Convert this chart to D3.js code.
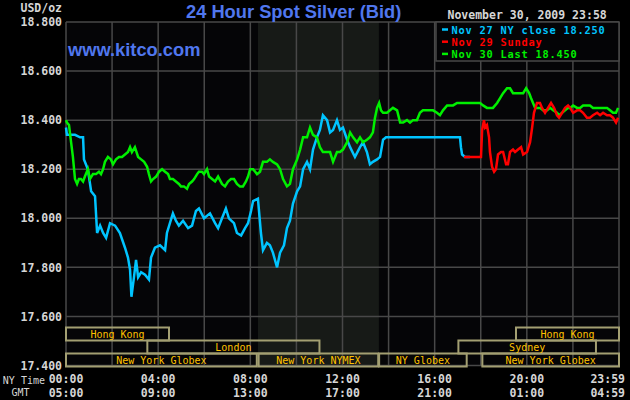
<!DOCTYPE html>
<html>
<head>
<meta charset="utf-8">
<script src="https://cdn.jsdelivr.net/npm/d3@7/dist/d3.min.js"></script>
<style>
  html, body { margin: 0; padding: 0; background: #000; }
  svg { display: block; }
</style>
</head>
<body>
<svg id="chart" width="630" height="400"></svg>
<script>
// hours after 00:00 NY time, price in USD/oz
const nov27Close = [
  [0.00, 18.37], [0.04, 18.34], [0.39, 18.34], [0.61, 18.33], [0.74, 18.33], [0.78, 18.24],
  [0.95, 18.20], [1.09, 18.11], [1.26, 18.09], [1.35, 17.94], [1.48, 17.97], [1.61, 17.94],
  [1.74, 17.92], [1.91, 17.98], [2.13, 17.97], [2.34, 17.94], [2.56, 17.88], [2.69, 17.84],
  [2.78, 17.79], [2.84, 17.68], [2.95, 17.76], [3.04, 17.83], [3.13, 17.76], [3.26, 17.78],
  [3.43, 17.77], [3.60, 17.75], [3.69, 17.84], [3.86, 17.88], [4.08, 17.89], [4.30, 17.87],
  [4.38, 17.94], [4.51, 17.98], [4.64, 18.02], [4.77, 17.99], [4.90, 17.97], [5.08, 17.99],
  [5.30, 17.96], [5.47, 17.97], [5.64, 18.03], [5.77, 18.04], [5.99, 18.00], [6.25, 18.02],
  [6.47, 17.98], [6.60, 17.96], [6.77, 18.00], [6.94, 18.04], [7.07, 18.00], [7.29, 17.98],
  [7.42, 17.94], [7.60, 17.93], [7.77, 17.96], [7.90, 17.98], [8.03, 18.03], [8.12, 18.07],
  [8.33, 18.08], [8.46, 17.94], [8.55, 17.87], [8.72, 17.90], [8.85, 17.89], [8.98, 17.86],
  [9.16, 17.80], [9.29, 17.86], [9.46, 17.89], [9.59, 17.96], [9.72, 17.99], [9.85, 18.06],
  [10.03, 18.11], [10.16, 18.13], [10.29, 18.20], [10.46, 18.23], [10.59, 18.20], [10.72, 18.28],
  [10.89, 18.33], [11.02, 18.36], [11.15, 18.42], [11.33, 18.40], [11.46, 18.35], [11.59, 18.36],
  [11.76, 18.40], [11.89, 18.36], [12.02, 18.37], [12.20, 18.32], [12.33, 18.29], [12.54, 18.25],
  [12.76, 18.29], [12.89, 18.31], [13.06, 18.27], [13.19, 18.22], [13.32, 18.23], [13.50, 18.24],
  [13.63, 18.25], [13.76, 18.32], [13.89, 18.33], [17.10, 18.33], [17.14, 18.29], [17.19, 18.26],
  [17.32, 18.25], [17.53, 18.25]
];

const nov29Sunday = [
  [17.27, 18.25], [18.01, 18.25], [18.06, 18.36], [18.14, 18.40], [18.19, 18.37], [18.27, 18.38],
  [18.36, 18.33], [18.40, 18.27], [18.49, 18.21], [18.58, 18.19], [18.66, 18.20], [18.75, 18.26],
  [18.88, 18.27], [18.97, 18.27], [19.10, 18.22], [19.18, 18.22], [19.27, 18.27], [19.40, 18.28],
  [19.49, 18.27], [19.62, 18.28], [19.75, 18.29], [19.84, 18.26], [20.01, 18.27], [20.14, 18.31],
  [20.23, 18.37], [20.31, 18.43], [20.44, 18.47], [20.57, 18.47], [20.66, 18.45], [20.79, 18.43],
  [20.92, 18.45], [21.05, 18.47], [21.18, 18.45], [21.31, 18.42], [21.40, 18.41], [21.53, 18.43],
  [21.66, 18.45], [21.79, 18.46], [21.88, 18.45], [22.01, 18.43], [22.18, 18.44], [22.31, 18.44],
  [22.44, 18.43], [22.61, 18.41], [22.74, 18.41], [22.87, 18.42], [23.05, 18.43], [23.18, 18.42],
  [23.31, 18.43], [23.48, 18.42], [23.61, 18.42], [23.74, 18.41], [23.87, 18.39], [23.96, 18.41]
];

const nov30Last = [
  [0.00, 18.40], [0.04, 18.39], [0.13, 18.38], [0.22, 18.31], [0.30, 18.25], [0.39, 18.16],
  [0.48, 18.14], [0.56, 18.16], [0.65, 18.16], [0.74, 18.15], [0.82, 18.17], [0.95, 18.20],
  [1.04, 18.16], [1.17, 18.18], [1.30, 18.18], [1.43, 18.19], [1.52, 18.18], [1.61, 18.20],
  [1.69, 18.23], [1.82, 18.25], [1.95, 18.24], [2.04, 18.22], [2.17, 18.24], [2.30, 18.25],
  [2.43, 18.25], [2.56, 18.26], [2.69, 18.27], [2.78, 18.29], [2.86, 18.27], [2.99, 18.29],
  [3.13, 18.25], [3.26, 18.24], [3.39, 18.23], [3.52, 18.21], [3.60, 18.18], [3.69, 18.15],
  [3.78, 18.16], [3.91, 18.17], [4.04, 18.19], [4.17, 18.20], [4.30, 18.19], [4.43, 18.18],
  [4.51, 18.16], [4.64, 18.16], [4.77, 18.15], [4.90, 18.14], [4.99, 18.13], [5.12, 18.13],
  [5.25, 18.12], [5.34, 18.14], [5.47, 18.15], [5.56, 18.16], [5.69, 18.18], [5.77, 18.19],
  [5.90, 18.19], [5.99, 18.18], [6.12, 18.20], [6.21, 18.17], [6.34, 18.16], [6.47, 18.15],
  [6.60, 18.17], [6.77, 18.14], [6.90, 18.13], [7.03, 18.15], [7.16, 18.16], [7.29, 18.16],
  [7.42, 18.14], [7.55, 18.13], [7.68, 18.13], [7.81, 18.15], [7.90, 18.17], [7.99, 18.20],
  [8.12, 18.20], [8.29, 18.18], [8.42, 18.19], [8.55, 18.23], [8.72, 18.23], [8.85, 18.24],
  [8.98, 18.23], [9.16, 18.22], [9.29, 18.20], [9.42, 18.16], [9.59, 18.13], [9.72, 18.14],
  [9.85, 18.20], [10.03, 18.24], [10.16, 18.28], [10.29, 18.33], [10.46, 18.33], [10.59, 18.37],
  [10.72, 18.34], [10.89, 18.33], [11.02, 18.29], [11.15, 18.27], [11.33, 18.27], [11.46, 18.27],
  [11.59, 18.23], [11.76, 18.27], [11.89, 18.27], [12.02, 18.28], [12.20, 18.31], [12.33, 18.35],
  [12.46, 18.33], [12.63, 18.31], [12.76, 18.33], [12.89, 18.31], [13.06, 18.32], [13.19, 18.33],
  [13.32, 18.35], [13.41, 18.41], [13.50, 18.45], [13.59, 18.47], [13.67, 18.44], [13.76, 18.43],
  [13.93, 18.43], [14.06, 18.44], [14.19, 18.45], [14.37, 18.44], [14.50, 18.39], [14.63, 18.39],
  [14.80, 18.40], [14.93, 18.39], [15.06, 18.40], [15.23, 18.40], [15.36, 18.43], [15.49, 18.44],
  [15.67, 18.44], [15.80, 18.44], [15.93, 18.44], [16.10, 18.43], [16.23, 18.42], [16.36, 18.44],
  [16.54, 18.46], [16.67, 18.46], [16.80, 18.46], [16.97, 18.47], [17.10, 18.47], [17.97, 18.47],
  [18.10, 18.46], [18.27, 18.45], [18.40, 18.45], [18.53, 18.45], [18.71, 18.47], [18.84, 18.49],
  [18.97, 18.51], [19.14, 18.53], [19.27, 18.53], [19.40, 18.51], [19.57, 18.51], [19.70, 18.51],
  [19.84, 18.51], [19.97, 18.53], [20.10, 18.51], [20.18, 18.49], [20.27, 18.47], [20.36, 18.45],
  [20.44, 18.45], [20.57, 18.45], [20.70, 18.44], [20.88, 18.44], [21.01, 18.45], [21.14, 18.44],
  [21.31, 18.43], [21.40, 18.42], [21.53, 18.43], [21.66, 18.44], [21.79, 18.45], [21.88, 18.45],
  [22.01, 18.46], [22.18, 18.45], [22.31, 18.45], [22.44, 18.46], [22.61, 18.46], [22.74, 18.46],
  [22.87, 18.45], [23.05, 18.45], [23.18, 18.45], [23.31, 18.45], [23.48, 18.45], [23.61, 18.44],
  [23.74, 18.43], [23.87, 18.43], [23.96, 18.45]
];

const seriesNames = ["Nov 27 NY close 18.250", "Nov 29 Sunday", "Nov 30 Last 18.450"];

const priceTicks = [17.4, 17.6, 17.8, 18.0, 18.2, 18.4, 18.6, 18.8];
const hourTicks = [0, 4, 8, 12, 16, 20, 24];
const nyLabels = ["00:00", "04:00", "08:00", "12:00", "16:00", "20:00", "23:59"];
const gmtLabels = ["05:00", "09:00", "13:00", "17:00", "21:00", "01:00", "04:59"];

// trading sessions: [name, row, open hour, close hour]
const markets = [
  ["Hong Kong", 0, 0, 4.47],
  ["Hong Kong", 0, 19.53, 24],
  ["London", 1, 3.53, 11.0],
  ["Sydney", 1, 17.03, 23.0],
  ["New York Globex", 2, 0, 8.28],
  ["New York NYMEX", 2, 8.36, 13.55],
  ["NY Globex", 2, 13.59, 17.39],
  ["New York Globex", 2, 18.07, 24]
];
const nymexHours = [8.33, 13.58];

const title = "24 Hour Spot Silver (Bid)";
const stamp = "November 30, 2009 23:58";

const svg = d3.select("#chart");
const width = 630, height = 400;
const plotL = 66, plotR = 619, plotT = 22, plotB = 365.5;

const mono = "'DejaVu Sans Mono', monospace";
const gridColor = "#484848";
const labelColor = "#d6d6d6";
const lineColors = ["#00c4ff", "#ff0000", "#00f000"];

const x = d3.scaleLinear().domain([0, 24]).range([plotL, plotR]);
const y = d3.scaleLinear().domain([17.4, 18.8]).range([plotB, plotT]);

svg.append("rect").attr("width", width).attr("height", height).attr("fill", "#000");
svg.append("rect")
  .attr("x", plotL).attr("y", plotT)
  .attr("width", plotR - plotL).attr("height", plotB - plotT)
  .attr("fill", "#050507");

// NYMEX session shade
svg.append("rect")
  .attr("x", x(nymexHours[0])).attr("y", plotT)
  .attr("width", x(nymexHours[1]) - x(nymexHours[0]))
  .attr("height", plotB - plotT)
  .attr("fill", "#171a17");

// grid
const grid = svg.append("g").attr("stroke", gridColor).attr("stroke-width", 1.5);
grid.selectAll("line.h")
  .data(priceTicks)
  .enter()
  .append("line")
  .attr("class", "h")
  .attr("x1", plotL).attr("x2", plotR)
  .attr("y1", (d) => y(d)).attr("y2", (d) => y(d));
grid.selectAll("line.v")
  .data(d3.range(0, 25, 2))
  .enter()
  .append("line")
  .attr("class", "v")
  .attr("x1", (d) => x(d)).attr("x2", (d) => x(d))
  .attr("y1", plotT).attr("y2", plotB);

// y axis labels
const yAxis = svg.append("g")
  .attr("transform", `translate(${plotL - 4},0)`)
  .call(d3.axisLeft(y).tickValues(priceTicks).tickFormat(d3.format(".3f")).tickSize(0).tickPadding(0));
yAxis.select(".domain").remove();
yAxis.selectAll("text")
  .attr("fill", labelColor)
  .style("font-family", mono)
  .style("font-weight", "bold")
  .style("font-size", "11.5px");

svg.append("text")
  .attr("x", plotL - 4).attr("y", 8)
  .attr("text-anchor", "end")
  .attr("dominant-baseline", "central")
  .attr("fill", labelColor)
  .style("font-family", mono)
  .style("font-weight", "bold")
  .style("font-size", "11.5px")
  .text("USD/oz");

// market sessions
const rowTop = 327.5, rowH = 13;
const mk = svg.append("g");
mk.selectAll("rect")
  .data(markets)
  .enter()
  .append("rect")
  .attr("x", (d) => x(d[2]))
  .attr("y", (d) => rowTop + d[1] * rowH)
  .attr("width", (d) => x(d[3]) - x(d[2]))
  .attr("height", rowH)
  .attr("fill", "none")
  .attr("stroke", "#a39f72")
  .attr("stroke-width", 2);
mk.selectAll("text")
  .data(markets)
  .enter()
  .append("text")
  .attr("x", (d) => (x(d[2]) + x(d[3])) / 2)
  .attr("y", (d) => rowTop + d[1] * rowH + rowH / 2 + 0.5)
  .attr("text-anchor", "middle")
  .attr("dominant-baseline", "central")
  .attr("fill", "#ffc200")
  .style("font-family", mono)
  .style("font-size", "10px")
  .text((d) => d[0]);

// x axis rows
const xAxisText = (labels, yy) => {
  svg.append("g")
    .selectAll("text")
    .data(hourTicks)
    .enter()
    .append("text")
    .attr("x", (d, i) => (i === hourTicks.length - 1 ? x(d) + 6 : x(d)))
    .attr("y", yy)
    .attr("text-anchor", (d, i) => (i === hourTicks.length - 1 ? "end" : "middle"))
    .attr("dominant-baseline", "central")
    .attr("fill", labelColor)
    .style("font-family", mono)
    .style("font-weight", "bold")
    .style("font-size", "11.5px")
    .text((d, i) => labels[i]);
};
xAxisText(nyLabels, 378.5);
xAxisText(gmtLabels, 393);

svg.append("text")
  .attr("x", 45).attr("y", 380)
  .attr("text-anchor", "end")
  .attr("dominant-baseline", "central")
  .attr("fill", labelColor)
  .style("font-family", mono)
  .style("font-size", "10px")
  .text("NY Time");
svg.append("text")
  .attr("x", 20.5).attr("y", 392)
  .attr("text-anchor", "middle")
  .attr("dominant-baseline", "central")
  .attr("fill", labelColor)
  .style("font-family", mono)
  .style("font-size", "10px")
  .text("GMT");

// price lines
const line = d3.line()
  .x((d) => x(d[0]))
  .y((d) => y(d[1]));

svg.append("g")
  .selectAll("path")
  .data([nov27Close, nov30Last, nov29Sunday])
  .enter()
  .append("path")
  .attr("d", line)
  .attr("fill", "none")
  .attr("stroke", (d, i) => [lineColors[0], lineColors[2], lineColors[1]][i])
  .attr("stroke-width", 2.5)
  .attr("stroke-linejoin", "miter");

// legend box
const lg = svg.append("g");
lg.append("rect")
  .attr("x", 436).attr("y", plotT)
  .attr("width", plotR - 436).attr("height", 39)
  .attr("fill", "#040406")
  .attr("stroke", gridColor)
  .attr("stroke-width", 1.5);
const items = lg.selectAll("g.item")
  .data(seriesNames)
  .enter()
  .append("g")
  .attr("class", "item")
  .attr("transform", (d, i) => `translate(442,${29.5 + i * 12.2})`);
items.append("line")
  .attr("x1", 0).attr("x2", 6)
  .attr("stroke", (d, i) => lineColors[i])
  .attr("stroke-width", 2.5);
items.append("text")
  .attr("x", 9.5)
  .attr("dominant-baseline", "central")
  .attr("fill", (d, i) => lineColors[i])
  .style("font-family", mono)
  .style("font-weight", "bold")
  .style("font-size", "10.3px")
  .style("letter-spacing", "0.8px")
  .text((d) => d);

svg.append("text")
  .attr("x", 447.5).attr("y", 14.5)
  .attr("dominant-baseline", "central")
  .attr("fill", labelColor)
  .style("font-family", mono)
  .style("font-weight", "bold")
  .style("font-size", "11.5px")
  .text(stamp);

// title and site
svg.append("text")
  .attr("x", 186).attr("y", 17.5)
  .attr("fill", "#5077ee")
  .style("font-family", "'Liberation Sans', Arial, sans-serif")
  .style("font-weight", "bold")
  .style("font-size", "18.3px")
  .text(title);
svg.append("text")
  .attr("x", 68).attr("y", 56)
  .attr("fill", "#5077ee")
  .style("font-family", "'Liberation Sans', Arial, sans-serif")
  .style("font-weight", "bold")
  .style("font-size", "18.3px")
  .text("www.kitco.com");
</script>
</body>
</html>
